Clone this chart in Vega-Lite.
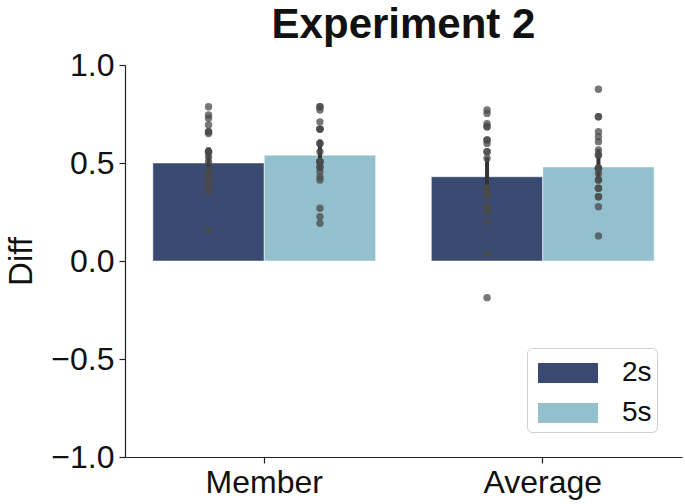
{
  "$schema": "https://vega.github.io/schema/vega-lite/v6.json",
  "autosize": {"type": "none"},
  "width": 557,
  "height": 392,
  "padding": {"left": 125, "top": 65, "right": 3, "bottom": 47},
  "background": "white",
  "config": {
    "font": "Liberation Sans",
    "view": {"stroke": null},
    "axis": {"grid": false, "domainColor": "#222", "tickColor": "#222", "labelColor": "#111", "titleColor": "#111", "labelFontSize": 32, "titleFontSize": 33, "titleFontWeight": "normal", "tickSize": 6, "domainWidth": 1.2, "tickWidth": 1.2}
  },
  "title": {"text": "Experiment 2", "fontSize": 42, "fontWeight": "bold", "color": "#111", "offset": 2, "anchor": "middle"},
  "datasets": {
    "bars": [
      {"category": "Member", "condition": "2s", "mean": 0.50, "lo": 0.45, "hi": 0.58},
      {"category": "Member", "condition": "5s", "mean": 0.54, "lo": 0.46, "hi": 0.62},
      {"category": "Average", "condition": "2s", "mean": 0.43, "lo": 0.35, "hi": 0.53},
      {"category": "Average", "condition": "5s", "mean": 0.48, "lo": 0.41, "hi": 0.57}
    ],
    "points": [
      {"category": "Member", "condition": "2s", "diff": 0.787},
      {"category": "Member", "condition": "2s", "diff": 0.745},
      {"category": "Member", "condition": "2s", "diff": 0.728},
      {"category": "Member", "condition": "2s", "diff": 0.694},
      {"category": "Member", "condition": "2s", "diff": 0.66},
      {"category": "Member", "condition": "2s", "diff": 0.66},
      {"category": "Member", "condition": "2s", "diff": 0.65},
      {"category": "Member", "condition": "2s", "diff": 0.558},
      {"category": "Member", "condition": "2s", "diff": 0.558},
      {"category": "Member", "condition": "2s", "diff": 0.558},
      {"category": "Member", "condition": "2s", "diff": 0.532},
      {"category": "Member", "condition": "2s", "diff": 0.507},
      {"category": "Member", "condition": "2s", "diff": 0.464},
      {"category": "Member", "condition": "2s", "diff": 0.464},
      {"category": "Member", "condition": "2s", "diff": 0.43},
      {"category": "Member", "condition": "2s", "diff": 0.43},
      {"category": "Member", "condition": "2s", "diff": 0.405},
      {"category": "Member", "condition": "2s", "diff": 0.405},
      {"category": "Member", "condition": "2s", "diff": 0.38},
      {"category": "Member", "condition": "2s", "diff": 0.362},
      {"category": "Member", "condition": "2s", "diff": 0.362},
      {"category": "Member", "condition": "2s", "diff": 0.362},
      {"category": "Member", "condition": "2s", "diff": 0.158},
      {"category": "Member", "condition": "5s", "diff": 0.787},
      {"category": "Member", "condition": "5s", "diff": 0.787},
      {"category": "Member", "condition": "5s", "diff": 0.77},
      {"category": "Member", "condition": "5s", "diff": 0.71},
      {"category": "Member", "condition": "5s", "diff": 0.673},
      {"category": "Member", "condition": "5s", "diff": 0.673},
      {"category": "Member", "condition": "5s", "diff": 0.673},
      {"category": "Member", "condition": "5s", "diff": 0.60},
      {"category": "Member", "condition": "5s", "diff": 0.60},
      {"category": "Member", "condition": "5s", "diff": 0.558},
      {"category": "Member", "condition": "5s", "diff": 0.507},
      {"category": "Member", "condition": "5s", "diff": 0.507},
      {"category": "Member", "condition": "5s", "diff": 0.507},
      {"category": "Member", "condition": "5s", "diff": 0.48},
      {"category": "Member", "condition": "5s", "diff": 0.48},
      {"category": "Member", "condition": "5s", "diff": 0.456},
      {"category": "Member", "condition": "5s", "diff": 0.43},
      {"category": "Member", "condition": "5s", "diff": 0.413},
      {"category": "Member", "condition": "5s", "diff": 0.269},
      {"category": "Member", "condition": "5s", "diff": 0.226},
      {"category": "Member", "condition": "5s", "diff": 0.192},
      {"category": "Average", "condition": "2s", "diff": 0.77},
      {"category": "Average", "condition": "2s", "diff": 0.753},
      {"category": "Average", "condition": "2s", "diff": 0.70},
      {"category": "Average", "condition": "2s", "diff": 0.685},
      {"category": "Average", "condition": "2s", "diff": 0.685},
      {"category": "Average", "condition": "2s", "diff": 0.617},
      {"category": "Average", "condition": "2s", "diff": 0.617},
      {"category": "Average", "condition": "2s", "diff": 0.60},
      {"category": "Average", "condition": "2s", "diff": 0.558},
      {"category": "Average", "condition": "2s", "diff": 0.558},
      {"category": "Average", "condition": "2s", "diff": 0.524},
      {"category": "Average", "condition": "2s", "diff": 0.371},
      {"category": "Average", "condition": "2s", "diff": 0.371},
      {"category": "Average", "condition": "2s", "diff": 0.345},
      {"category": "Average", "condition": "2s", "diff": 0.345},
      {"category": "Average", "condition": "2s", "diff": 0.328},
      {"category": "Average", "condition": "2s", "diff": 0.277},
      {"category": "Average", "condition": "2s", "diff": 0.277},
      {"category": "Average", "condition": "2s", "diff": 0.252},
      {"category": "Average", "condition": "2s", "diff": 0.252},
      {"category": "Average", "condition": "2s", "diff": 0.20},
      {"category": "Average", "condition": "2s", "diff": 0.039},
      {"category": "Average", "condition": "2s", "diff": -0.187},
      {"category": "Average", "condition": "5s", "diff": 0.876},
      {"category": "Average", "condition": "5s", "diff": 0.736},
      {"category": "Average", "condition": "5s", "diff": 0.736},
      {"category": "Average", "condition": "5s", "diff": 0.66},
      {"category": "Average", "condition": "5s", "diff": 0.634},
      {"category": "Average", "condition": "5s", "diff": 0.609},
      {"category": "Average", "condition": "5s", "diff": 0.566},
      {"category": "Average", "condition": "5s", "diff": 0.541},
      {"category": "Average", "condition": "5s", "diff": 0.541},
      {"category": "Average", "condition": "5s", "diff": 0.473},
      {"category": "Average", "condition": "5s", "diff": 0.473},
      {"category": "Average", "condition": "5s", "diff": 0.473},
      {"category": "Average", "condition": "5s", "diff": 0.447},
      {"category": "Average", "condition": "5s", "diff": 0.413},
      {"category": "Average", "condition": "5s", "diff": 0.413},
      {"category": "Average", "condition": "5s", "diff": 0.371},
      {"category": "Average", "condition": "5s", "diff": 0.371},
      {"category": "Average", "condition": "5s", "diff": 0.328},
      {"category": "Average", "condition": "5s", "diff": 0.328},
      {"category": "Average", "condition": "5s", "diff": 0.277},
      {"category": "Average", "condition": "5s", "diff": 0.128}
    ]
  },
  "encoding": {
    "x": {"field": "category", "type": "nominal", "sort": ["Member", "Average"], "scale": {"paddingInner": 0.2, "paddingOuter": 0.1}, "axis": {"title": null, "labelAngle": 0, "labelPadding": 4}},
    "xOffset": {"field": "condition", "type": "nominal", "sort": ["2s", "5s"], "scale": {"paddingInner": 0, "paddingOuter": 0}}
  },
  "layer": [
    {
      "data": {"name": "bars"},
      "mark": {"type": "bar", "stroke": "white", "strokeWidth": 0.5},
      "encoding": {
        "y": {"field": "mean", "type": "quantitative", "scale": {"domain": [-1, 1], "nice": false, "zero": false}, "axis": {"title": "Diff", "values": [-1, -0.5, 0, 0.5, 1], "format": ".1f", "labelPadding": 5, "titlePadding": 12}},
        "color": {"field": "condition", "type": "nominal", "sort": ["2s", "5s"], "scale": {"domain": ["2s", "5s"], "range": ["#3b4a70", "#94c0ce"]}, "legend": {"title": null, "orient": "none", "legendX": 402, "legendY": 283, "symbolType": "M-1.5,-0.5H1.5V0.5H-1.5Z", "symbolSize": 1600, "symbolOffset": 16, "symbolStrokeWidth": 0, "symbolOpacity": 1, "labelFontSize": 28, "labelColor": "#111", "labelOffset": 34, "rowPadding": 6, "padding": 5, "strokeColor": "#d0d0d0", "cornerRadius": 5, "fillColor": "white"}}
      }
    },
    {
      "data": {"name": "bars"},
      "mark": {"type": "rule", "color": "#333333", "strokeWidth": 4},
      "encoding": {
        "y": {"field": "lo", "type": "quantitative"},
        "y2": {"field": "hi"}
      }
    },
    {
      "data": {"name": "points"},
      "mark": {"type": "circle", "size": 55, "color": "#4a4a4a", "opacity": 0.75},
      "encoding": {
        "y": {"field": "diff", "type": "quantitative"}
      }
    }
  ]
}
